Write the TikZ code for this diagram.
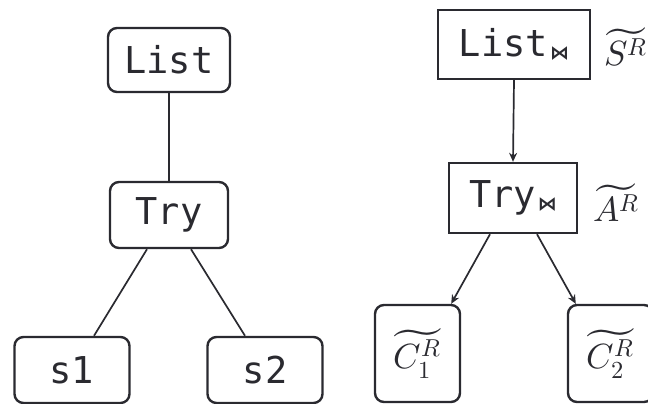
\documentclass[tikz,border=0pt]{standalone}
\usepackage{fontspec}
\usepackage{unicode-math}
\setmonofont{DejaVu Sans Mono}
\setmathfont{Latin Modern Math}
\newfontfamily\joinfont{DejaVu Sans}[BoldFont={DejaVu Sans Bold}]
\newcommand{\joinsub}{\hspace{2pt}\raisebox{-3pt}{\joinfont\bfseries\fontsize{19}{19}\selectfont ⋈}}
\usetikzlibrary{arrows.meta}
\definecolor{ink}{HTML}{2A2A30}
\tikzset{
  tbox/.style={draw=ink, line width=2.4pt, text=ink, inner sep=0pt,
    font=\fontsize{37}{42}\selectfont\ttfamily},
  rbox/.style={tbox, rounded corners=9pt},
  sbox/.style={tbox},
  link/.style={draw=ink, line width=1.7pt},
  arr/.style={link, -{Stealth[length=9pt,width=8pt]}},
  mathfont/.style={font=\fontsize{35}{40}\selectfont},
  annot/.style={mathfont, text=ink, inner sep=0pt, anchor=west},
}
\begin{document}
\begin{tikzpicture}[x=1pt, y=-1pt]
\useasboundingbox (0,0) rectangle (648,404);

% plain tree
\node[rbox, minimum width=122pt, minimum height=64pt] (list) at (169,60) {List};
\node[rbox, minimum width=118pt, minimum height=66pt] (try) at (169,215) {Try};
\node[rbox, minimum width=115pt, minimum height=66pt] (s1) at (72,370) {s1};
\node[rbox, minimum width=115pt, minimum height=66pt] (s2) at (265,370) {s2};

\draw[link] (list.south) -- (try.north);
\draw[link] ([xshift=-22pt]try.south) -- ([xshift=22pt]s1.north);
\draw[link] ([xshift=22pt]try.south) -- ([xshift=-20pt]s2.north);

% annotated tree
\node[sbox, minimum width=152pt, minimum height=69pt] (list2) at (514,44.5) {List\joinsub\hspace{8pt}};
\node[sbox, minimum width=128pt, minimum height=70pt] (try2) at (513,198) {Try\joinsub};
\node[rbox, mathfont, minimum width=85pt, minimum height=97pt] (c1) at (417.5,353.5) {$\widetilde{C_1^R}$};
\node[rbox, mathfont, minimum width=85pt, minimum height=97pt] (c2) at (610.5,353.5) {$\widetilde{C_2^R}$};

\node[annot] (sl) at (604,47) {$\widetilde{S^R}$};
\node[annot] (al) at (593,203) {$\widetilde{A^R}$};

\draw[arr] (list2.south) -- (try2.north);
\draw[arr] ([xshift=-23pt]try2.south) -- ([xshift=-10pt]c1.north east);
\draw[arr] ([xshift=24pt]try2.south) -- ([xshift=9pt]c2.north west);
\end{tikzpicture}
\end{document}
